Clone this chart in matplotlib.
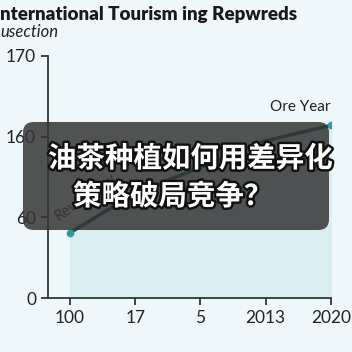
import matplotlib
matplotlib.use('Agg')
from matplotlib import pyplot as plt
from matplotlib.patches import FancyBboxPatch
import matplotlib.patheffects as pe

plt.rcParams['font.family'] = ['Lato', 'Noto Sans CJK SC', 'DejaVu Sans']

# data (y in tick-index units of the odd categorical axis)
x_labels = ['100', '17', '5', '2013', '2020']
y_tick_labels = ['0', '60', '160', '170']
values = [0.81, 1.3, 1.62, 1.95, 2.14]

title = 'International Tourism ing Repwreds'
subtitle = 'usection'
overlay_line1 = '油茶种植如何用差异化'
overlay_line2 = '策略破局竞争？'

bg = '#eef8fa'
fig = plt.figure(figsize=(3.52, 3.52), dpi=100, facecolor=bg)
ax = fig.add_axes([0.136, 0.153, 0.804, 0.688], facecolor=bg)

xs = list(range(len(values)))
ax.fill_between(xs, values, 0, color='#d8eef0', zorder=1)
ax.plot(xs, values, color='#1d5a5e', linewidth=2.5, zorder=3)
ax.plot([xs[0], xs[-1]], [values[0], values[-1]], linestyle='none',
        marker='o', markersize=4.5, color='#2f9aa0', zorder=4)

ax.annotate('Ore Year', (xs[-1], values[-1]), xytext=(0, 8), textcoords='offset points',
            ha='right', va='bottom', fontsize=11, color='#222222')
ax.annotate('Revortflew', (xs[0], values[0]), xytext=(-7, 7), textcoords='offset points',
            ha='left', va='bottom', fontsize=10.5, color='#333333', rotation=35,
            rotation_mode='anchor')

ax.set_xlim(-0.34, 4.0)
ax.set_ylim(0, 3)
ax.set_xticks(xs)
ax.set_xticklabels(x_labels)
ax.set_yticks(range(len(y_tick_labels)))
ax.set_yticklabels(y_tick_labels)
ax.tick_params(labelsize=12.5, colors='#222222', length=5, width=1.2)
for s in ['top', 'right']:
    ax.spines[s].set_visible(False)
for s in ['left', 'bottom']:
    ax.spines[s].set_color('#2b3a35')
    ax.spines[s].set_linewidth(1.3)

fig.text(-0.018, 0.943, title, fontsize=13.5, fontweight='heavy', color='#1a1a1a', va='baseline')
fig.text(0.0, 0.895, subtitle, fontsize=12, style='italic', color='#222222', va='baseline')

# overlay banner
box = FancyBboxPatch((23 / 352, 1 - 230 / 352), 306 / 352, 108 / 352,
                     boxstyle='round,pad=0,rounding_size=0.03',
                     transform=fig.transFigure, facecolor='#333333', alpha=0.84,
                     edgecolor='none', zorder=10)
fig.patches.append(box)
stroke = [pe.withStroke(linewidth=3.5, foreground='#111111')]
fig.text(48 / 352, 1 - 159 / 352, overlay_line1, fontsize=20.5, fontweight='bold', color='white',
         family=['Noto Sans CJK SC', 'DejaVu Sans'], va='center', ha='left',
         path_effects=stroke, zorder=11)
fig.text(73 / 352, 1 - 197 / 352, overlay_line2, fontsize=20.5, fontweight='bold', color='white',
         family=['Noto Sans CJK SC', 'DejaVu Sans'], va='center', ha='left',
         path_effects=stroke, zorder=11)

fig.savefig('out.png', dpi=100, facecolor=bg)
